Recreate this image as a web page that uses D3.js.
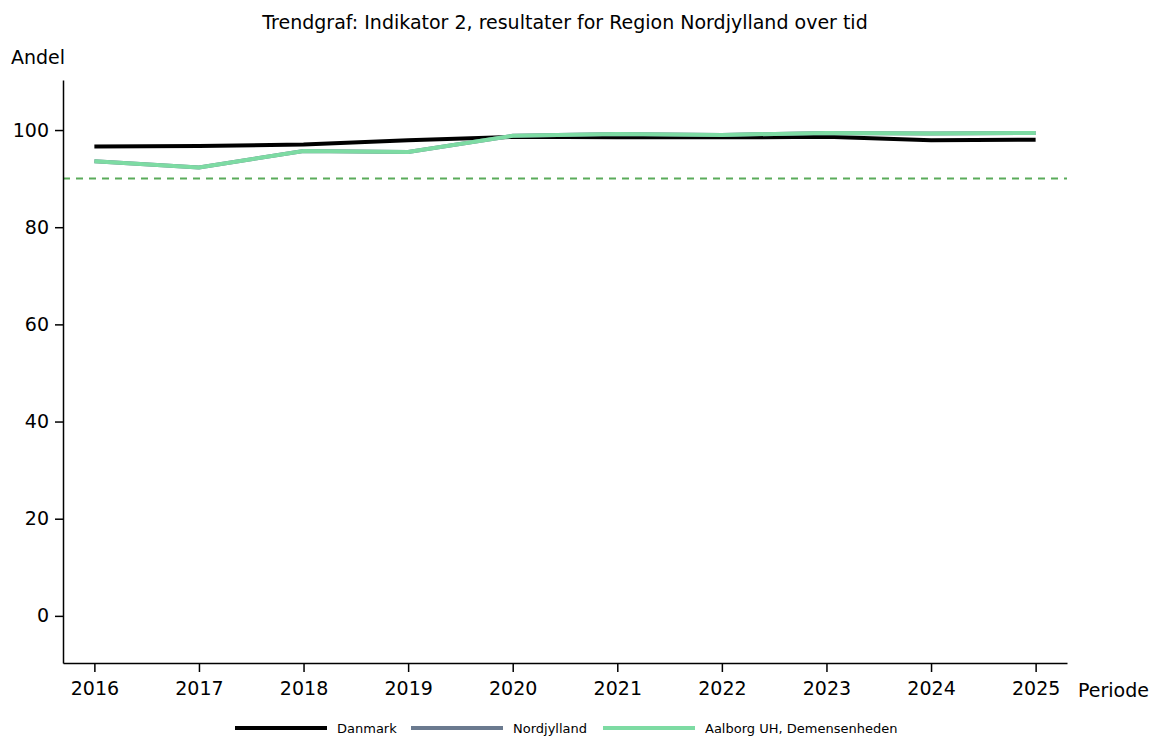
<!DOCTYPE html>
<html>
<head>
<meta charset="utf-8">
<script src="https://cdn.jsdelivr.net/npm/d3@7"></script>
<style>
  body { margin: 0; background: #fff; }
  svg { font-family: 'DejaVu Sans', sans-serif; }
  .axis path, .axis line { stroke: #000; stroke-width: 1.5; }
  .axis text { font-size: 19px; fill: #000; font-family: 'DejaVu Sans', sans-serif; }
</style>
</head>
<body>
<svg id="chart"></svg>
<script>
const TITLE = 'Trendgraf: Indikator 2, resultater for Region Nordjylland over tid';
const YEARS = [2016, 2017, 2018, 2019, 2020, 2021, 2022, 2023, 2024, 2025];
const Y_TICKS = [0, 20, 40, 60, 80, 100];
const DANMARK = [96.6, 96.7, 97.0, 97.9, 98.6, 98.5, 98.5, 98.6, 97.9, 98.0];
const NORDJYLLAND = [93.6, 92.3, 95.7, 95.5, 98.8, 99.2, 99.0, 99.4, 99.3, 99.4];
const AALBORG = [93.6, 92.3, 95.7, 95.5, 98.8, 99.2, 99.0, 99.4, 99.3, 99.4];
const TARGET = 90;

const SERIES = [
  { name: 'Danmark', values: DANMARK, color: '#000000' },
  { name: 'Nordjylland', values: NORDJYLLAND, color: '#6b7a8f' },
  { name: 'Aalborg UH, Demensenheden', values: AALBORG, color: '#7ddba3' }
];

const W = 1158, H = 738;
const MARGIN = { top: 80, right: 91, bottom: 75, left: 63 };
const WIDTH = W - MARGIN.left - MARGIN.right;
const HEIGHT = H - MARGIN.top - MARGIN.bottom;

const x = d3.scaleLinear().domain([2015.7, 2025.3]).range([0, WIDTH]);
const y = d3.scaleLinear().domain([-9.7, 110.3]).range([HEIGHT, 0]);

const root = d3.select('#chart').attr('width', W).attr('height', H);

root.append('text')
  .attr('x', MARGIN.left + WIDTH / 2)
  .attr('y', 29)
  .attr('text-anchor', 'middle')
  .style('font-size', '19px')
  .text(TITLE);

root.append('text')
  .attr('x', 11)
  .attr('y', 64)
  .style('font-size', '19px')
  .text('Andel');

const svg = root.append('g')
  .attr('transform', 'translate(' + MARGIN.left + ', ' + MARGIN.top + ')');

// reference line
svg.append('line')
  .attr('x1', 0).attr('x2', WIDTH)
  .attr('y1', y(TARGET)).attr('y2', y(TARGET))
  .attr('stroke', '#5aab5a')
  .attr('stroke-width', 2)
  .attr('stroke-dasharray', '7,6');

const line = d3.line()
  .x((d, i) => x(YEARS[i]))
  .y(d => y(d));

SERIES.forEach(s => {
  svg.append('path')
    .attr('fill', 'none')
    .attr('stroke', s.color)
    .attr('stroke-width', 4)
    .attr('d', line(s.values));
});

// X-Axis
svg.append('g')
  .attr('class', 'axis')
  .attr('transform', 'translate(0, ' + HEIGHT + ')')
  .call(d3.axisBottom(x).tickValues(YEARS).tickFormat(d3.format('d')).tickSize(9).tickSizeOuter(0).tickPadding(10));

svg.append('text')
  .attr('x', WIDTH + 11)
  .attr('y', HEIGHT + 34)
  .style('font-size', '19px')
  .text('Periode');

// Y-Axis
svg.append('g')
  .attr('class', 'axis')
  .call(d3.axisLeft(y).tickValues(Y_TICKS).tickSize(8).tickSizeOuter(0).tickPadding(6));

// Legend
const LEGEND_X = [235, 411, 603];
const legend = root.append('g');
SERIES.forEach((s, i) => {
  legend.append('line')
    .attr('x1', LEGEND_X[i]).attr('x2', LEGEND_X[i] + 92)
    .attr('y1', 728).attr('y2', 728)
    .attr('stroke', s.color)
    .attr('stroke-width', 4);
  legend.append('text')
    .attr('x', LEGEND_X[i] + 102)
    .attr('y', 733)
    .style('font-size', '13px')
    .text(s.name);
});
</script>
</body>
</html>
